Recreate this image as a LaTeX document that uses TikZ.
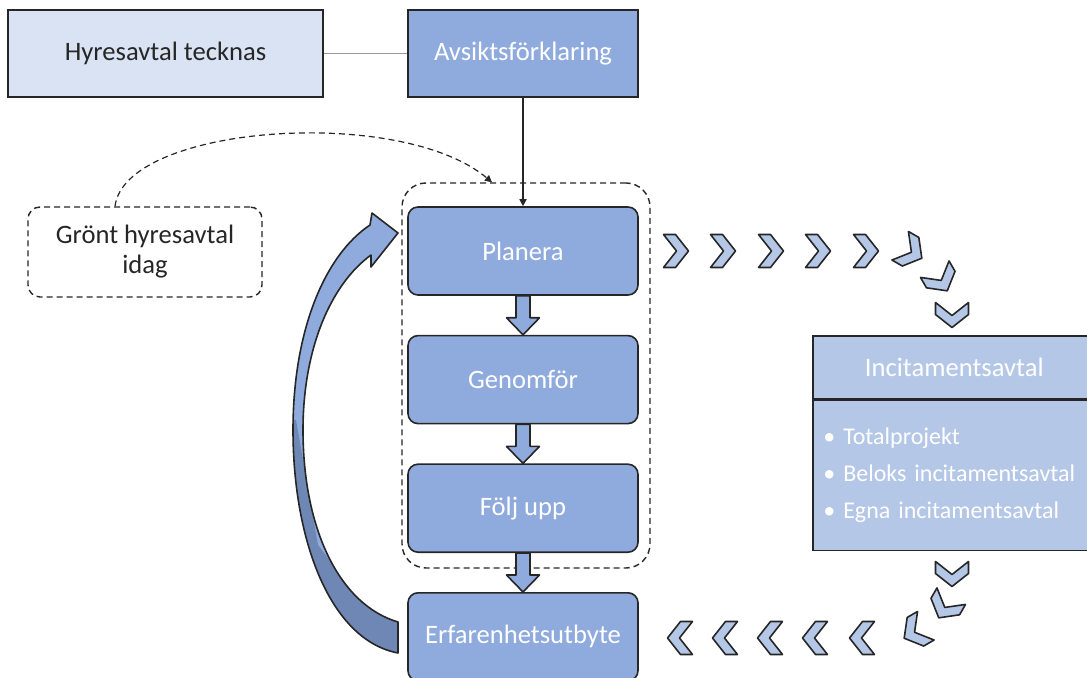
\documentclass[tikz,border=0pt]{standalone}
\usepackage{fontspec}
\setmainfont{Carlito}
\usepackage{tikz}
\usetikzlibrary{arrows.meta, positioning, fit, calc}
\definecolor{boxblue}{HTML}{8FAADC}
\definecolor{paleblue}{HTML}{DAE3F3}
\definecolor{softblue}{HTML}{B4C7E7}
\definecolor{deepblue}{HTML}{6F87B5}
\definecolor{edge}{HTML}{262626}
\tikzset{
  % Box styles
  headbox/.style={rectangle, minimum width=#1, minimum height=43.5pt, text centered, draw=edge, line width=0.8pt, font=\fontsize{13.3}{16}\selectfont},
  stepbox/.style={rectangle, rounded corners=5pt, minimum width=115pt, minimum height=44pt, text centered, draw=edge, line width=0.8pt, fill=boxblue, text=white, font=\fontsize{13.3}{16}\selectfont},
  incbox/.style={rectangle, minimum width=141.5pt, draw=edge, line width=0.8pt, fill=softblue, text=white},
  group/.style={rectangle, rounded corners=12pt, draw=edge, dashed, dash pattern=on 3pt off 2pt, line width=0.7pt, inner sep=0pt},
  arrow/.style={-{Triangle[length=3.5pt, width=3.5pt]}, line width=0.8pt, draw=edge},
  blockarrow/.style={fill=boxblue, draw=edge, line width=0.8pt, line join=round},
  pics/chevron/.style={code={
    \filldraw[fill=softblue, draw=edge, line width=0.8pt, line join=round] (-12.5,-16.5) -- (-0.5,-16.5) -- (12.5,0) -- (-0.5,16.5) -- (-12.5,16.5) -- (0.5,0) -- cycle;}},
}
\newcommand{\blockdown}[2]{%
  \filldraw[blockarrow] ([xshift=-3.5pt]#1.south) -- ([xshift=-3.5pt, yshift=8.5pt]#2.north) -- ([xshift=-8.25pt, yshift=8.5pt]#2.north) -- (#2.north) -- ([xshift=8.25pt, yshift=8.5pt]#2.north) -- ([xshift=3.5pt, yshift=8.5pt]#2.north) -- ([xshift=3.5pt]#1.south) -- cycle;}

\begin{document}
\begin{tikzpicture}[x=0.5pt, y=-0.5pt]
    \useasboundingbox (0,0) rectangle (1087,678);

    % Top row
    \node[headbox=157.5pt, fill=paleblue, text=edge] (hyres) at (165.5,53.5) {Hyresavtal tecknas};
    \node[headbox=115pt, fill=boxblue, text=white] (avsikt) at (523,53.5) {Avsiktsförklaring};
    \draw[gray!80, line width=0.6pt] (hyres) -- (avsikt);

    % Process steps
    \node[stepbox] (plan) at (523,251) {Planera};
    \node[stepbox, below=19.5pt of plan] (genom) {Genomför};
    \node[stepbox, below=19.5pt of genom] (folj) {Följ upp};
    \node[stepbox, below=19.5pt of folj] (erf) {Erfarenhetsutbyte};

    % Dashed group
    \node[group, fit={(402,183) (650,568)}] (grp) {};

    \draw[arrow] (avsikt) -- (plan);
    \blockdown{plan}{genom}
    \blockdown{genom}{folj}
    \blockdown{folj}{erf}

    % Green lease today
    \node[draw=edge, dashed, dash pattern=on 3pt off 2pt, line width=0.7pt, rounded corners=6pt, minimum width=117pt, minimum height=45pt, align=center, text=edge, font=\fontsize{13.3}{15}\selectfont] (gront) at (145,252) {Grönt hyresavtal\\idag};
    \draw[arrow, dash pattern=on 3pt off 2pt, line width=0.6pt] ([xshift=-15pt]gront.north) .. controls (125,125) and (400,105) .. ([xshift=-17pt]grp.north);

    % Curved arrow back to Planera
    \def\looppath{(398,653) .. controls (330,640) and (293,540) .. (293,430) .. controls (293,330) and (325,255) .. (370,225) -- (372,213) -- (398,233) -- (371,267) -- (371,255) .. controls (330,285) and (303,350) .. (303,430) .. controls (303,530) and (340,605) .. (398,622) -- cycle}
    \fill[boxblue] \looppath;
    \begin{scope}
      \clip \looppath;
      \fill[deepblue] (285,420) -- (296,420) -- (318,545) -- (360,600) -- (405,610) -- (405,670) -- (285,670) -- cycle;
    \end{scope}
    \draw[edge, line width=0.8pt, line join=round] \looppath;

    % Incentive box
    \node[incbox, anchor=north west, minimum height=31.5pt, font=\fontsize{13.3}{16}\selectfont] (inchead) at (812,335) {Incitamentsavtal};
    \node[incbox, anchor=north west, minimum height=75pt, text width=131pt, inner xsep=5pt, align=left, font=\fontsize{12}{18.5}\selectfont] (incbody) at (inchead.south west) {• Totalprojekt\\• Beloks incitamentsavtal\\• Egna incitamentsavtal};

    % Chevrons out
    \foreach \cx/\cy/\ang in {676/251/0, 723/251/0, 771/251/0, 818/251/0, 866/251/0, 911/252/-30, 941/280/-60, 952/315/-90}
      \pic[rotate=\ang] at (\cx,\cy) {chevron};

    % Chevrons back
    \foreach \cx/\cy/\ang in {952/574/-90, 945/607/-120, 915/632/-150, 862/638/180, 815/638/180, 770/638/180, 725/638/180, 680/638/180}
      \pic[rotate=\ang] at (\cx,\cy) {chevron};
\end{tikzpicture}
\end{document}
